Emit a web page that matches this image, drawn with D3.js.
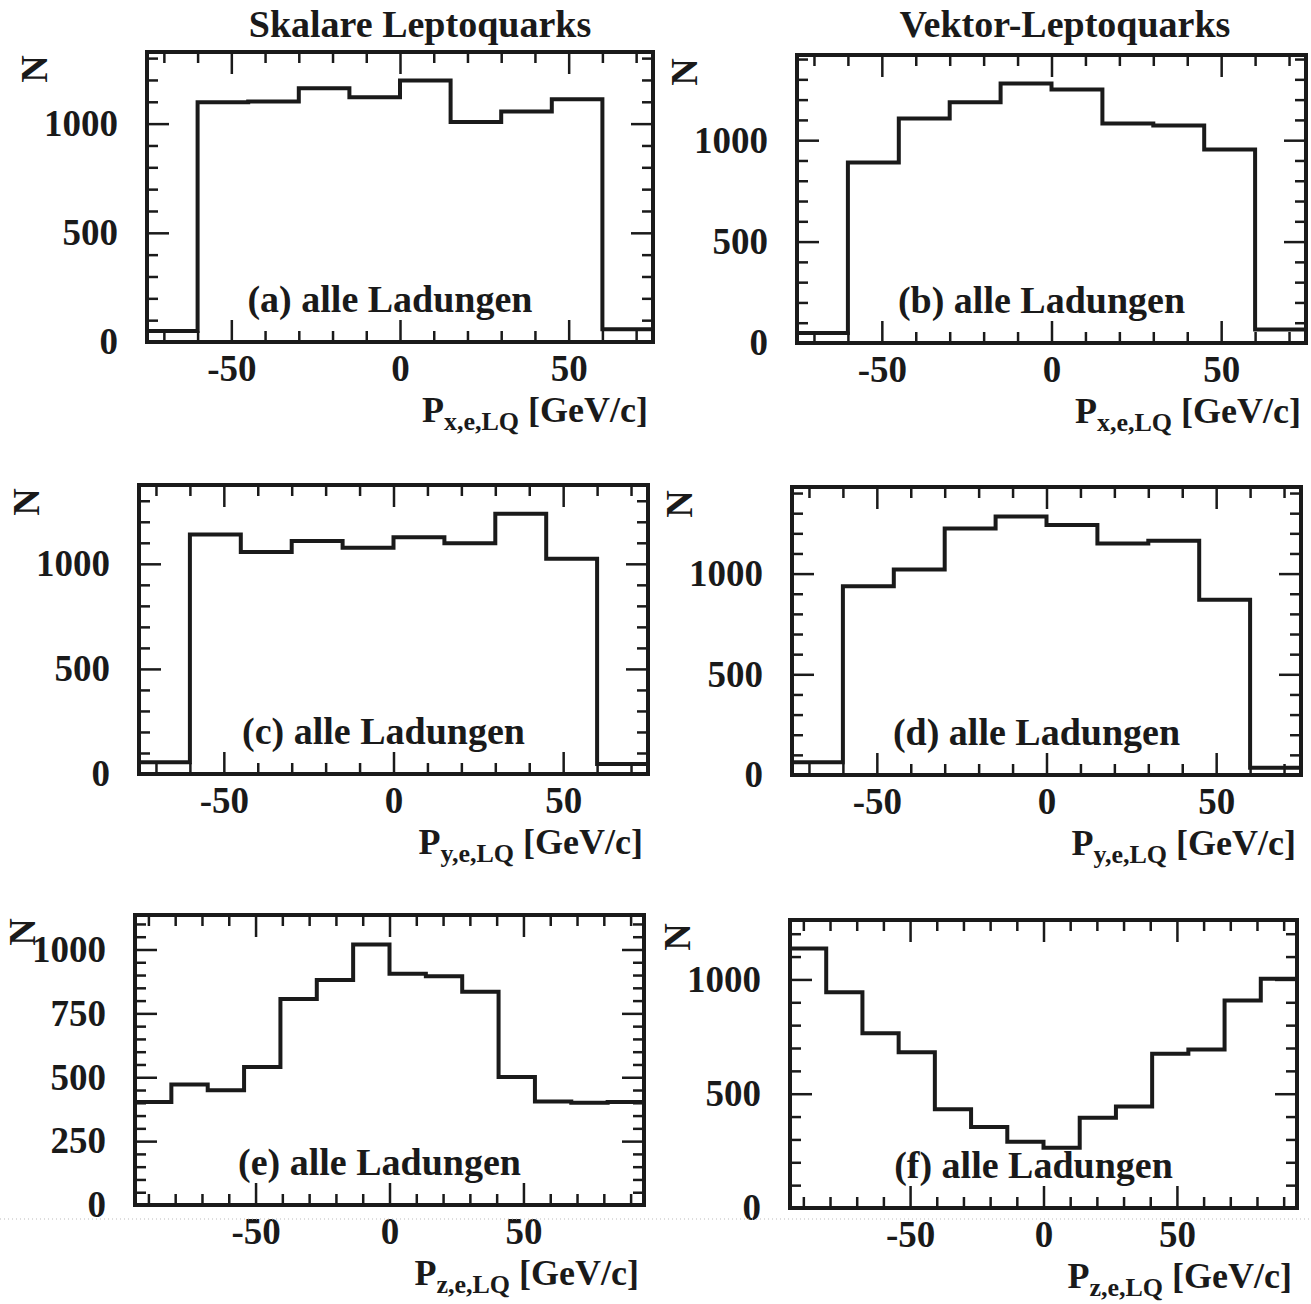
<!DOCTYPE html>
<html>
<head>
<meta charset="utf-8">
<script src="https://cdn.jsdelivr.net/npm/d3@7"></script>
<style>
  body { margin: 0; background: #fff; }
  svg text { font-family: "Liberation Serif", "Times New Roman", serif; font-weight: bold; fill: #1a1a1a; }
</style>
</head>
<body>
<svg id="chart" width="1311" height="1304"></svg>
<script>
// headings and panel captions
const columnTitles = ["Skalare Leptoquarks", "Vektor-Leptoquarks"];
const panelLabels = ["(a) alle Ladungen", "(b) alle Ladungen", "(c) alle Ladungen",
                     "(d) alle Ladungen", "(e) alle Ladungen", "(f) alle Ladungen"];
const axisVariables = ["x", "x", "y", "y", "z", "z"];

// histogram ranges (GeV/c)
const rangeXY = [-75, 75];
const rangeZ = [-95, 95];

// bin contents
const countsA = [50, 1098, 1101, 1162, 1121, 1197, 1008, 1055, 1112, 58];
const countsB = [49, 890, 1107, 1187, 1280, 1250, 1082, 1072, 954, 66];
const countsC = [56, 1140, 1056, 1108, 1076, 1127, 1098, 1238, 1024, 48];
const countsD = [63, 937, 1020, 1224, 1284, 1241, 1150, 1163, 870, 36];
const countsE = [403, 472, 449, 540, 806, 881, 1020, 905, 895, 835, 501, 405, 400, 403];
const countsF = [1135, 944, 764, 681, 432, 354, 290, 264, 395, 444, 675, 693, 908, 1003];

// upper end of each y axis
const yMax = [1328, 1420, 1375, 1430, 1135, 1260];

// tick labels
const xTickValues = [-50, 0, 50];
const yTicksMain = [0, 500, 1000];
const yTicksE = [0, 250, 500, 750, 1000];

// frame positions in the page
const frames = [
  { x0: 147, y0: 52,  x1: 653,  y1: 342 },
  { x0: 797, y0: 55,  x1: 1306, y1: 343 },
  { x0: 139, y0: 485, x1: 648,  y1: 774 },
  { x0: 792, y0: 487, x1: 1301, y1: 775 },
  { x0: 135, y0: 915, x1: 644,  y1: 1205 },
  { x0: 790, y0: 920, x1: 1297, y1: 1208 }
];
const titlePos = [420, 1065];

const ink = "#1a1a1a";
const svg = d3.select("#chart");

const panels = [
  { counts: countsA, range: rangeXY, yTicks: yTicksMain, yMinor: 100 },
  { counts: countsB, range: rangeXY, yTicks: yTicksMain, yMinor: 100 },
  { counts: countsC, range: rangeXY, yTicks: yTicksMain, yMinor: 100 },
  { counts: countsD, range: rangeXY, yTicks: yTicksMain, yMinor: 100 },
  { counts: countsE, range: rangeZ, yTicks: yTicksE, yMinor: 50 },
  { counts: countsF, range: rangeZ, yTicks: yTicksMain, yMinor: 100 }
];

// column titles
columnTitles.forEach((t, i) => {
  svg.append("text")
    .attr("x", titlePos[i])
    .attr("y", 37)
    .attr("text-anchor", "middle")
    .attr("font-size", 38)
    .text(t);
});

function styleAxis(g, size) {
  g.select(".domain").remove();
  g.selectAll("line").attr("stroke", ink).attr("stroke-width", 2.5);
  g.selectAll("text")
    .attr("font-family", "Liberation Serif, Times New Roman, serif")
    .attr("font-weight", "bold")
    .attr("font-size", size)
    .attr("fill", ink);
}

// plain hyphen for negative numbers, like the original
const plain = d => String(d);

panels.forEach((p, i) => {
  const f = frames[i];
  const g = svg.append("g");

  const x = d3.scaleLinear().domain(p.range).range([f.x0, f.x1]);
  const y = d3.scaleLinear().domain([0, yMax[i]]).range([f.y1, f.y0]);

  const xMinor = d3.range(Math.ceil(p.range[0] / 10) * 10, p.range[1] + 0.001, 10)
    .filter(v => v % 50 !== 0);
  const yMinorVals = d3.range(0, yMax[i], p.yMinor)
    .filter(v => !p.yTicks.includes(v) && v > 0);
  const yMajor = d3.range(0, yMax[i], p.yTicks[1] - p.yTicks[0]);

  // bottom axis with labels
  g.append("g")
    .attr("transform", `translate(0,${f.y1})`)
    .call(d3.axisBottom(x).tickValues(xTickValues).tickSize(-22).tickPadding(13).tickFormat(plain))
    .call(a => styleAxis(a, 37));
  g.append("g")
    .attr("transform", `translate(0,${f.y1})`)
    .call(d3.axisBottom(x).tickValues(xMinor).tickSize(-11).tickFormat(""))
    .call(a => styleAxis(a, 37));

  // top axis
  g.append("g")
    .attr("transform", `translate(0,${f.y0})`)
    .call(d3.axisTop(x).tickValues(xTickValues).tickSize(-22).tickFormat(""))
    .call(a => styleAxis(a, 37));
  g.append("g")
    .attr("transform", `translate(0,${f.y0})`)
    .call(d3.axisTop(x).tickValues(xMinor).tickSize(-11).tickFormat(""))
    .call(a => styleAxis(a, 37));

  // left axis with labels
  g.append("g")
    .attr("transform", `translate(${f.x0},0)`)
    .call(d3.axisLeft(y).tickValues(p.yTicks).tickSize(-22).tickPadding(29).tickFormat(plain))
    .call(a => styleAxis(a, 37));
  g.append("g")
    .attr("transform", `translate(${f.x0},0)`)
    .call(d3.axisLeft(y).tickValues(yMinorVals).tickSize(-11).tickFormat(""))
    .call(a => styleAxis(a, 37));

  // right axis
  g.append("g")
    .attr("transform", `translate(${f.x1},0)`)
    .call(d3.axisRight(y).tickValues(yMajor).tickSize(-22).tickFormat(""))
    .call(a => styleAxis(a, 37));
  g.append("g")
    .attr("transform", `translate(${f.x1},0)`)
    .call(d3.axisRight(y).tickValues(yMinorVals).tickSize(-11).tickFormat(""))
    .call(a => styleAxis(a, 37));

  // histogram outline
  const n = p.counts.length;
  const w = (p.range[1] - p.range[0]) / n;
  const pts = p.counts.map((c, k) => [p.range[0] + k * w, c]);
  pts.push([p.range[1], p.counts[n - 1]]);
  g.append("path")
    .attr("d", d3.line().x(d => x(d[0])).y(d => y(d[1])).curve(d3.curveStepAfter)(pts))
    .attr("fill", "none")
    .attr("stroke", ink)
    .attr("stroke-width", 4);

  // frame
  g.append("rect")
    .attr("x", f.x0).attr("y", f.y0)
    .attr("width", f.x1 - f.x0).attr("height", f.y1 - f.y0)
    .attr("fill", "none")
    .attr("stroke", ink)
    .attr("stroke-width", 4);

  // panel caption
  g.append("text")
    .attr("x", (f.x0 + f.x1) / 2 - 10)
    .attr("y", f.y1 - 30)
    .attr("text-anchor", "middle")
    .attr("font-size", 38)
    .text(panelLabels[i]);

  // rotated N
  g.append("text")
    .attr("transform", `translate(${f.x0 - 100},${f.y0 + 17}) rotate(-90)`)
    .attr("text-anchor", "middle")
    .attr("font-size", 38)
    .text("N");

  // x axis title
  const t = g.append("text")
    .attr("x", f.x1 - 5)
    .attr("y", f.y1 + 80)
    .attr("text-anchor", "end")
    .attr("font-size", 36);
  t.append("tspan").text("P");
  t.append("tspan").attr("font-size", 26).attr("dy", 8).text(`${axisVariables[i]},e,LQ`);
  t.append("tspan").attr("dy", -8).text(" [GeV/c]");
});

// faint scan line across the bottom row
svg.append("line")
  .attr("x1", 0).attr("x2", 1311)
  .attr("y1", 1219).attr("y2", 1219)
  .attr("stroke", "#bbb")
  .attr("stroke-width", 1)
  .attr("stroke-dasharray", "1,3");
</script>
</body>
</html>
